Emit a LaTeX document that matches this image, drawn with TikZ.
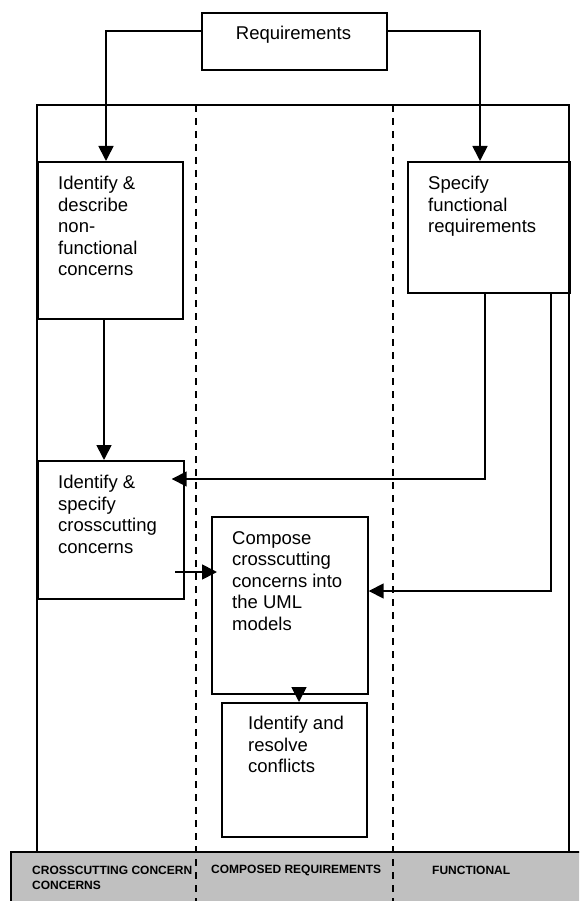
\documentclass[tikz,border=0pt]{standalone}
\usepackage{fontspec}
\setmainfont{Liberation Sans}
\usetikzlibrary{arrows.meta}
\definecolor{bandgray}{RGB}{192,192,192}
\begin{document}
\begin{tikzpicture}[x=1pt,y=-1pt,
  ln/.style={line width=1.7pt},
  box/.style={draw, line width=1.7pt, inner sep=0pt, anchor=north west},
  txt/.style={anchor=north west, inner sep=0pt, align=left, font=\fontsize{18.5}{21.5}\selectfont},
  lbl/.style={anchor=west, inner sep=0pt, align=left, font=\fontsize{12}{15}\selectfont\bfseries},
  arr/.style={line width=1.7pt, -{Triangle[length=15pt,width=15pt]}},
  sep/.style={line width=1.6pt, dash pattern=on 7pt off 6pt}]
\useasboundingbox (0,0) rectangle (579,901);
\clip (0,0) rectangle (579,901);

% bottom band
\draw[ln, fill=bandgray] (11,852) rectangle (600,920);
% frame
\draw[ln] (37,852) -- (37,105) -- (569,105) -- (569,852);
% lane separators
\draw[sep] (196,105) -- (196,901);
\draw[sep] (393,105) -- (393,901);

% boxes
\node[box, minimum width=185pt, minimum height=57pt] (req) at (201,12) {};
\node[anchor=north, inner sep=0pt, font=\fontsize{18.5}{21.5}\selectfont] (reqt) at (293.5,26) {Requirements};

\node[box, minimum width=145pt, minimum height=157pt] (desc) at (37,161) {};
\node[txt] (desct) at (58,176) {Identify \&\\describe\\non-\\functional\\concerns};

\node[box, minimum width=162pt, minimum height=131pt] (spec) at (407,161) {};
\node[txt] (spect) at (428,176) {Specify\\functional\\requirements};

\node[box, minimum width=146pt, minimum height=138pt] (ispec) at (37,460) {};
\node[txt] (ispect) at (58,475) {Identify \&\\specify\\crosscutting\\concerns};

\node[box, minimum width=156pt, minimum height=177pt] (compose) at (211,516) {};
\node[txt] (composet) at (232,531) {Compose\\crosscutting\\concerns into\\the UML\\models};

\node[box, minimum width=145pt, minimum height=134pt] (resolve) at (221,702) {};
\node[txt] (resolvet) at (248,716) {Identify and\\resolve\\conflicts};

% band labels
\node[lbl] (l1) at (32,870) {CROSSCUTTING CONCERN};
\node[lbl] (l2) at (32,885) {CONCERNS};
\node[lbl] (l3) at (211,870) {COMPOSED REQUIREMENTS};
\node[lbl] (l4) at (432,870) {FUNCTIONAL};

% connectors
\coordinate (lx) at (106,31);
\coordinate (rx) at (480,31);
\draw[arr] (req.west |- lx) -- (lx) -- (lx |- desc.north);
\draw[arr] (req.east |- rx) -- (rx) -- (rx |- spec.north);

\coordinate (c4) at (104,0);
\draw[arr] (desc.south -| c4) -- (ispec.north -| c4);

\coordinate (c1) at (485,479);
\draw[arr] (spec.south -| c1) -- (c1) -- ([xshift=-13pt]ispec.east |- c1);

\coordinate (c2) at (551,591);
\draw[arr] (spec.south -| c2) -- (c2) -- (compose.east |- c2);

\coordinate (c3) at (175,572);
\draw[arr] (c3) -- ([xshift=6pt]compose.west |- c3);

\coordinate (c5) at (299,0);
\draw[arr] (compose.south -| c5) -- (resolve.north -| c5);
\end{tikzpicture}
\end{document}
